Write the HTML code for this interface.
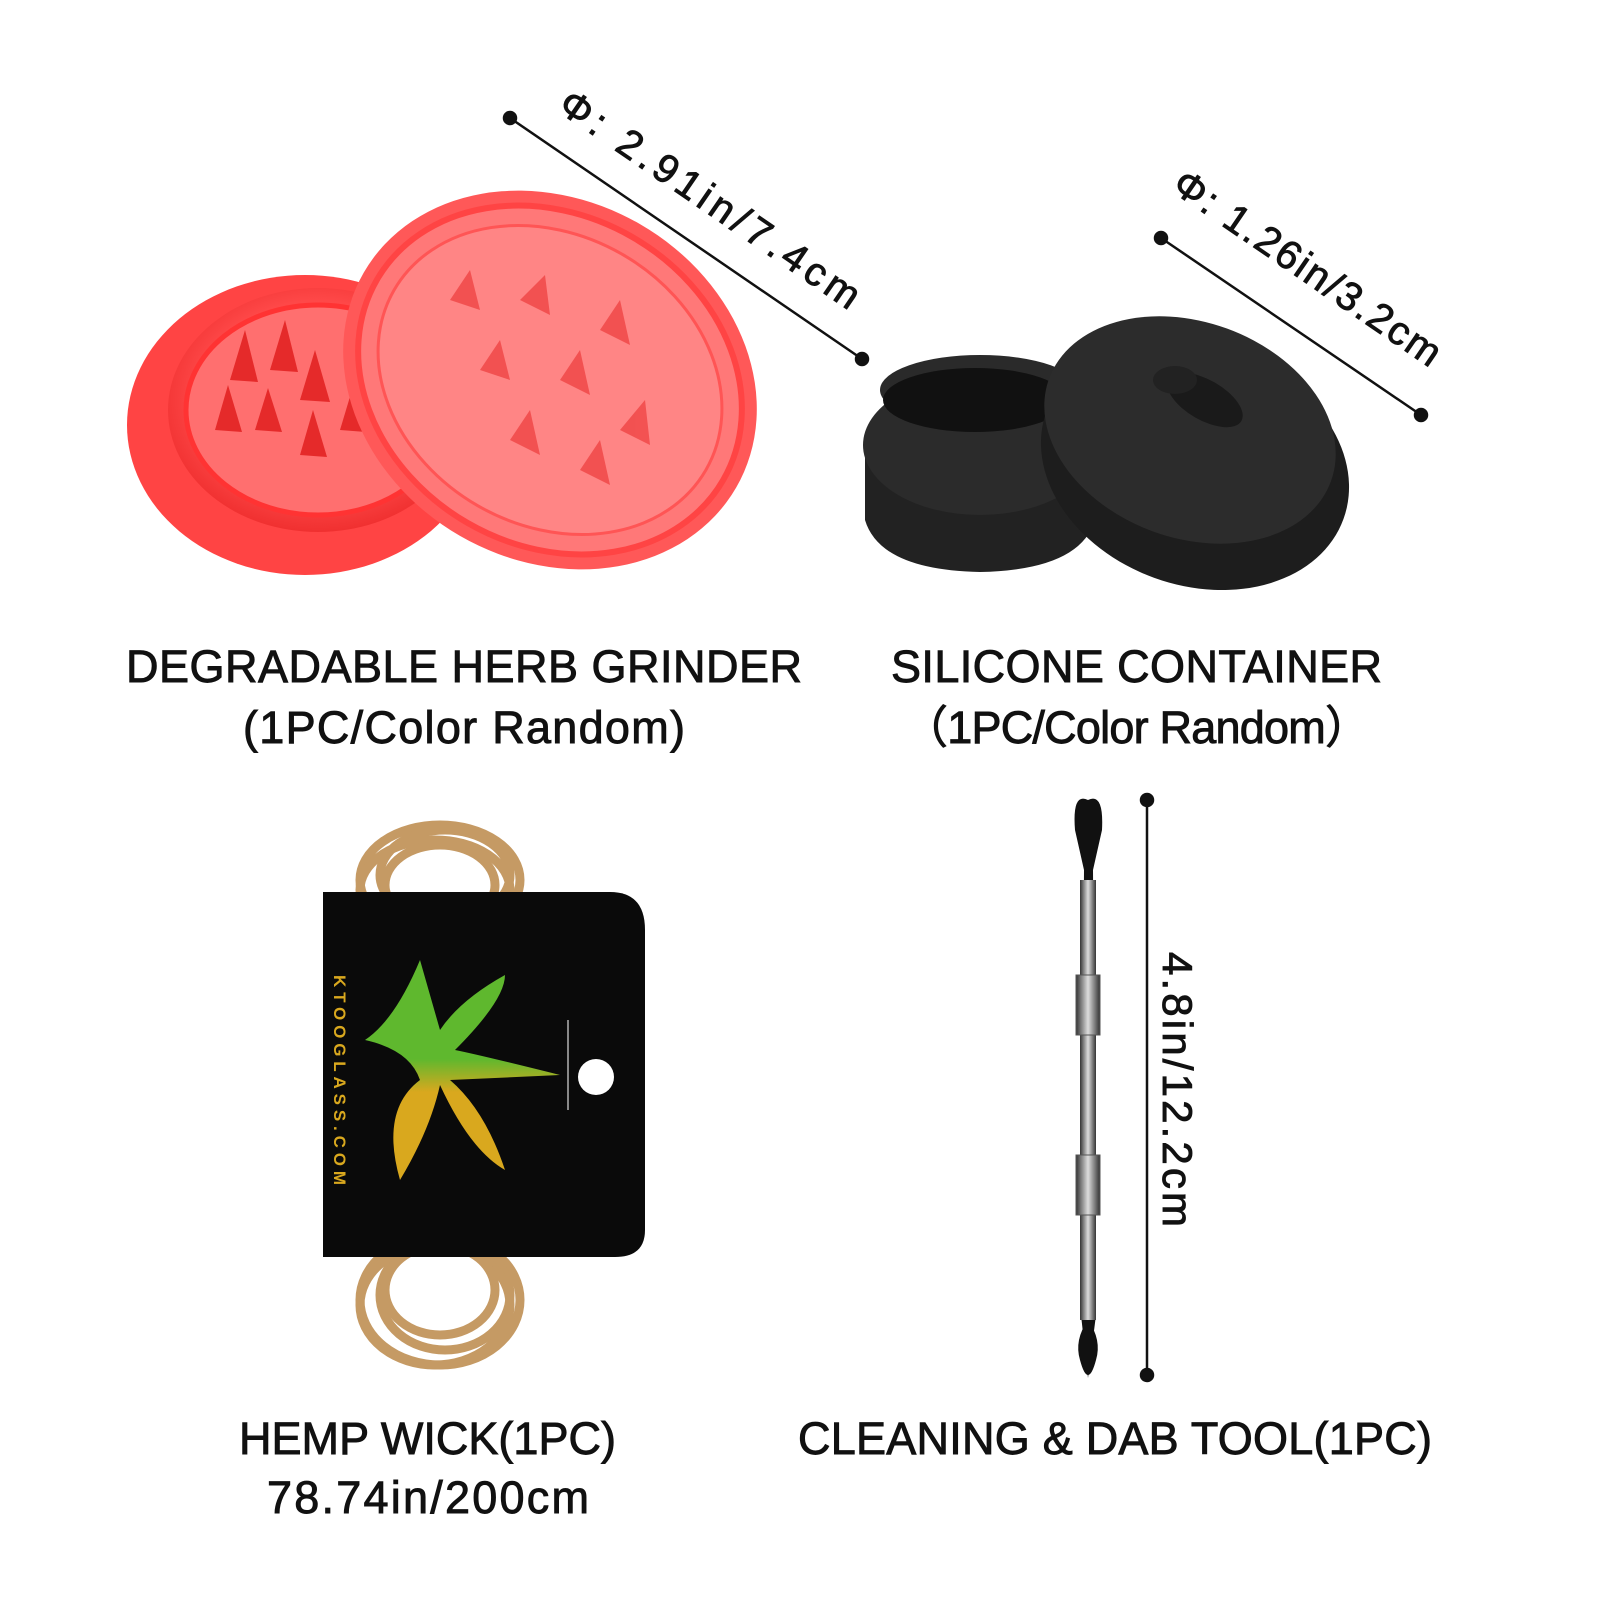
<!DOCTYPE html>
<html><head><meta charset="utf-8"><style>
html,body{margin:0;padding:0;background:#fff;width:1600px;height:1600px;overflow:hidden}
svg{display:block}
text{font-family:"Liberation Sans","Noto Sans CJK SC",sans-serif;fill:#111;stroke:#111;stroke-width:0.9px}
</style></head><body>
<svg width="1600" height="1600" viewBox="0 0 1600 1600" xmlns="http://www.w3.org/2000/svg">
<defs>
<radialGradient id="rg" cx="50%" cy="45%" r="55%"><stop offset="0" stop-color="#ff8a8a"/><stop offset="0.7" stop-color="#ff4a4a"/><stop offset="1" stop-color="#f03030"/></radialGradient>
<linearGradient id="steel" x1="0" x2="1"><stop offset="0" stop-color="#333"/><stop offset="0.5" stop-color="#ddd"/><stop offset="1" stop-color="#333"/></linearGradient>
<linearGradient id="leaf" x1="0" y1="0" x2="0" y2="1"><stop offset="0.45" stop-color="#5fb82e"/><stop offset="0.6" stop-color="#d9a81e"/></linearGradient>
</defs>

<!-- Grinder -->
<g>
<ellipse cx="305" cy="425" rx="178" ry="150" fill="#f44" />
<ellipse cx="318" cy="410" rx="150" ry="122" fill="url(#rg)"/>
<ellipse cx="318" cy="410" rx="132" ry="105" fill="#ff6f6f" stroke="#f33" stroke-width="5"/>
<g fill="#e52a2a">
<polygon points="230,380 245,330 258,382"/><polygon points="270,370 285,320 298,372"/><polygon points="300,400 315,350 330,402"/>
<polygon points="215,430 228,385 242,432"/><polygon points="255,430 268,388 282,432"/><polygon points="300,455 313,410 327,457"/>
<polygon points="340,430 352,390 366,432"/>
</g>
<ellipse cx="550" cy="380" rx="215" ry="180" transform="rotate(30 550 380)" fill="#ff5858"/>
<ellipse cx="550" cy="380" rx="200" ry="165" transform="rotate(30 550 380)" fill="#ff7878" stroke="#ff4444" stroke-width="6"/>
<ellipse cx="550" cy="380" rx="180" ry="145" transform="rotate(30 550 380)" fill="#ff8585" stroke="#f55" stroke-width="3"/>
<g fill="#f04545" opacity="0.8">
<polygon points="450,300 470,270 480,310"/><polygon points="520,300 545,275 550,315"/><polygon points="600,330 620,300 630,345"/>
<polygon points="480,370 500,340 510,380"/><polygon points="560,380 580,350 590,395"/><polygon points="620,430 645,400 650,445"/>
<polygon points="510,440 530,410 540,455"/><polygon points="580,470 600,440 610,485"/>
</g>
</g>

<!-- Silicone container -->
<g>
<path d="M865,440 L865,520 Q880,570 980,572 Q1080,570 1095,520 L1095,440 Z" fill="#222"/>
<ellipse cx="980" cy="390" rx="100" ry="35" fill="#2a2a2a"/>
<ellipse cx="980" cy="445" rx="117" ry="70" fill="#2b2b2b"/>
<ellipse cx="975" cy="400" rx="92" ry="32" fill="#111"/>
<ellipse cx="1195" cy="465" rx="158" ry="120" transform="rotate(20 1195 465)" fill="#1d1d1d"/>
<ellipse cx="1190" cy="430" rx="150" ry="108" transform="rotate(20 1190 430)" fill="#2c2c2c"/>
<ellipse cx="1205" cy="400" rx="42" ry="20" transform="rotate(30 1205 400)" fill="#1a1a1a"/>
<ellipse cx="1175" cy="380" rx="22" ry="14" fill="#222"/>
</g>

<!-- Dimension lines -->
<g stroke="#111" stroke-width="2.5" fill="#111">
<line x1="510" y1="118" x2="862" y2="359"/><circle cx="510" cy="118" r="6"/><circle cx="862" cy="359" r="6"/>
<line x1="1161" y1="238" x2="1421" y2="415"/><circle cx="1161" cy="238" r="6"/><circle cx="1421" cy="415" r="6"/>
<line x1="1147" y1="800" x2="1147" y2="1375"/><circle cx="1147" cy="800" r="6"/><circle cx="1147" cy="1375" r="6"/>
</g>
<text transform="translate(556,110) rotate(34.4)" font-size="40" textLength="355">Φ:  2.91in/7.4cm</text>
<text transform="translate(1170,190) rotate(34.4)" font-size="40" textLength="315">Φ:  1.26in/3.2cm</text>
<text transform="translate(1163,952) rotate(90)" font-size="42" textLength="275">4.8in/12.2cm</text>

<!-- Hemp wick -->
<g fill="none" stroke="#c59a64" stroke-width="9">
<ellipse cx="440" cy="880" rx="80" ry="55"/><ellipse cx="445" cy="875" rx="65" ry="45"/><ellipse cx="435" cy="890" rx="75" ry="50"/><ellipse cx="440" cy="885" rx="55" ry="40"/>
<ellipse cx="440" cy="1300" rx="80" ry="65"/><ellipse cx="445" cy="1295" rx="65" ry="55"/><ellipse cx="435" cy="1305" rx="75" ry="60"/><ellipse cx="440" cy="1290" rx="55" ry="45"/>
</g>
<path d="M323,892 L610,892 Q645,892 645,930 L645,1230 Q645,1257 615,1257 L323,1257 Z" fill="#0a0a0a"/>
<circle cx="596" cy="1077" r="18" fill="#fff"/>
<line x1="568" y1="1020" x2="568" y2="1110" stroke="#888" stroke-width="2"/>
<path d="M420,960 Q395,1020 365,1040 Q410,1050 420,1080 Q380,1110 400,1180 Q430,1130 440,1085 Q470,1150 505,1170 Q485,1110 450,1080 L560,1075 Q480,1055 455,1050 Q505,1000 505,975 Q460,1000 440,1030 Z" fill="url(#leaf)"/>
<text transform="translate(334,975) rotate(90)" font-size="17" style="fill:#d9a81e;stroke:none" font-weight="bold" textLength="210">KTOOGLASS.COM</text>

<!-- Dab tool -->
<g>
<path d="M1088,800 Q1072,792 1075,830 L1084,870 L1081,1315 L1088,1378 L1096,1315 L1093,870 L1102,830 Q1104,792 1088,800 Z" fill="#111"/>
<rect x="1080" y="880" width="16" height="440" fill="url(#steel)"/>
<rect x="1076" y="975" width="24" height="60" fill="url(#steel)" stroke="#555"/>
<rect x="1076" y="1155" width="24" height="60" fill="url(#steel)" stroke="#555"/>
<path d="M1088,1320 Q1074,1340 1080,1360 Q1088,1390 1096,1360 Q1102,1340 1088,1320 Z" fill="#111"/>
</g>

<!-- Labels -->
<g font-size="45">
<text x="126" y="682" textLength="676">DEGRADABLE HERB GRINDER</text>
<text x="243" y="743" textLength="442">(1PC/Color Random)</text>
<text x="891" y="682" textLength="491">SILICONE CONTAINER</text>
<text x="903" y="743" textLength="467">（1PC/Color Random）</text>
<text x="239" y="1454" textLength="377">HEMP WICK(1PC)</text>
<text x="267" y="1513" textLength="322">78.74in/200cm</text>
<text x="798" y="1454" textLength="634">CLEANING &amp; DAB TOOL(1PC)</text>
</g>
</svg>
</body></html>
